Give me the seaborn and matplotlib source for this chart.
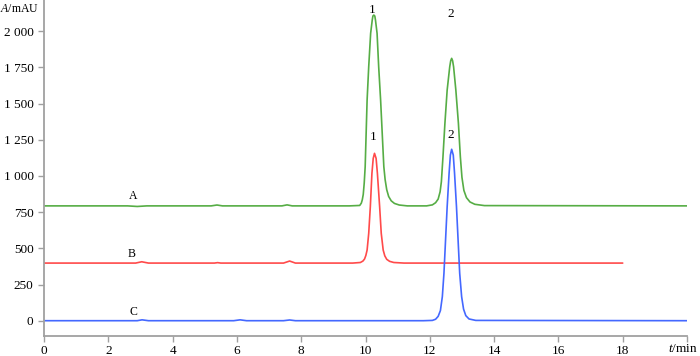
import numpy as np
import pandas as pd
import matplotlib
matplotlib.use("Agg")
import matplotlib.pyplot as plt
import seaborn as sns

# ---- data ----
A_t = [0, 2.6, 2.9, 3.2, 5.2, 5.38, 5.55, 7.4, 7.56, 7.72,
       9.5, 9.82, 9.87, 9.90, 9.93, 9.96, 9.99, 10.02, 10.05, 10.10, 10.16, 10.21, 10.23, 10.26,
       10.29, 10.31, 10.36, 10.41, 10.47, 10.52, 10.57, 10.61, 10.66, 10.72, 10.80, 10.90, 11.05, 11.3,
       11.9, 12.08, 12.18, 12.26, 12.32, 12.36, 12.41, 12.47, 12.54, 12.62, 12.65, 12.68,
       12.71, 12.74, 12.81, 12.89, 12.95, 13.00, 13.06, 13.14, 13.25, 13.40, 13.7, 20]
A_v = [793, 793, 789, 793, 793, 799, 793, 793, 800, 793,
       793, 796, 812, 835, 872, 950, 1064, 1294, 1524, 1754, 1985, 2077, 2104, 2111,
       2104, 2077, 1985, 1754, 1524, 1294, 1064, 975, 905, 858, 828, 810, 799, 793,
       793, 800, 815, 840, 890, 960, 1133, 1363, 1593, 1754, 1795, 1812,
       1795, 1754, 1593, 1363, 1133, 990, 900, 850, 820, 804, 795, 793]

B_t = [0, 2.85, 3.04, 3.25, 5.3, 5.4, 5.5, 7.45, 7.64, 7.82,
       9.6, 9.84, 9.92, 9.97, 10.01, 10.05, 10.10, 10.15, 10.20, 10.24, 10.28,
       10.33, 10.37, 10.44, 10.49, 10.55, 10.60, 10.66, 10.75, 10.88, 11.2, 18]
B_v = [398, 398, 407, 398, 398, 401, 398, 398, 412, 398,
       398, 402, 412, 426, 450, 488, 603, 787, 1018, 1121, 1156,
       1121, 1018, 787, 603, 488, 448, 424, 410, 402, 398, 398]

C_t = [0, 2.9, 3.05, 3.25, 5.9, 6.1, 6.3, 7.45, 7.64, 7.82,
       11.8, 12.08, 12.18, 12.26, 12.33, 12.39, 12.44, 12.49, 12.54, 12.60, 12.64, 12.68,
       12.73, 12.77, 12.83, 12.88, 12.93, 12.99, 13.05, 13.12, 13.22, 13.43, 20]
C_v = [0, 0, 6, 0, 0, 6, 0, 0, 5, 0,
       0, 2, 10, 30, 70, 166, 327, 557, 787, 1018, 1144, 1184,
       1144, 1018, 787, 557, 327, 166, 80, 35, 12, 2, 0]

trace_names = ["A", "B", "C"]
trace_colors = ["#56ad45", "#ff4a4a", "#4468ff"]

x_ticks = [0, 2, 4, 6, 8, 10, 12, 14, 16, 18, 20]
x_tick_labels = ["0", "2", "4", "6", "8", "10", "12", "14", "16", "18", ""]
y_ticks = [0, 250, 500, 750, 1000, 1250, 1500, 1750, 2000]
y_tick_labels = ["0", "250", "500", "750", "1 000", "1 250", "1 500", "1 750", "2 000"]

trace_label_pos = [(2.77, 860), (2.74, 458), (2.77, 62)]
peak_labels = ["1", "2", "1", "2"]
peak_label_pos = [(10.22, 2148), (12.65, 2118), (10.25, 1268), (12.65, 1282)]

# ---- build long-form table ----
frames = []
for name, t, v in zip(trace_names, [A_t, B_t, C_t], [A_v, B_v, C_v]):
    frames.append(pd.DataFrame({"t": t, "v": v, "trace": name}))
df = pd.concat(frames, ignore_index=True)

sns.set_theme(style="white")
plt.rcParams["font.family"] = ["Liberation Serif", "DejaVu Serif"]
plt.rcParams["mathtext.fontset"] = "custom"
plt.rcParams["mathtext.it"] = "Liberation Serif:italic"
plt.rcParams["mathtext.rm"] = "Liberation Serif"

fig = plt.figure(figsize=(7.0, 3.56), dpi=100)
ax = fig.add_axes([44 / 700, 20.3 / 356, (687 - 44) / 700, 335.7 / 356])

sns.lineplot(data=df, x="t", y="v", hue="trace", palette=dict(zip(trace_names, trace_colors)),
             estimator=None, sort=False, linewidth=1.2, legend=False, ax=ax)

ax.set_xlim(0, 20)
ax.set_ylim(-103.6, 2215)
ax.set_xticks(x_ticks)
ax.set_xticklabels(x_tick_labels)
ax.set_yticks(y_ticks)
ax.set_yticklabels(y_tick_labels)
ax.set_xlabel("")
ax.set_ylabel("")

for side in ["top", "right"]:
    ax.spines[side].set_visible(False)
for side in ["left", "bottom"]:
    ax.spines[side].set_color("#a0a0a0")
    ax.spines[side].set_linewidth(1.3)
ax.tick_params(axis="both", which="major", direction="out", length=4.5, width=1.0,
               color="#a0a0a0", labelsize=9.5, labelcolor="black", pad=3,
               bottom=True, left=True)
ax.tick_params(axis="x", pad=2)

for name, (tx, ty) in zip(trace_names, trace_label_pos):
    ax.text(tx, ty, name, ha="center", va="center", fontsize=8.5, color="black")
for lab, (tx, ty) in zip(peak_labels, peak_label_pos):
    ax.text(tx, ty, lab, ha="center", va="center", fontsize=9.5, color="black")

fig.text(0.0, 1 - 9 / 356, "$A$/mAU", ha="left", va="center", fontsize=8.5, color="black")
fig.text(698 / 700, 1 - 349 / 356, "$t$/min", ha="right", va="center", fontsize=9.5, color="black")

fig.savefig("out.png", dpi=100)
